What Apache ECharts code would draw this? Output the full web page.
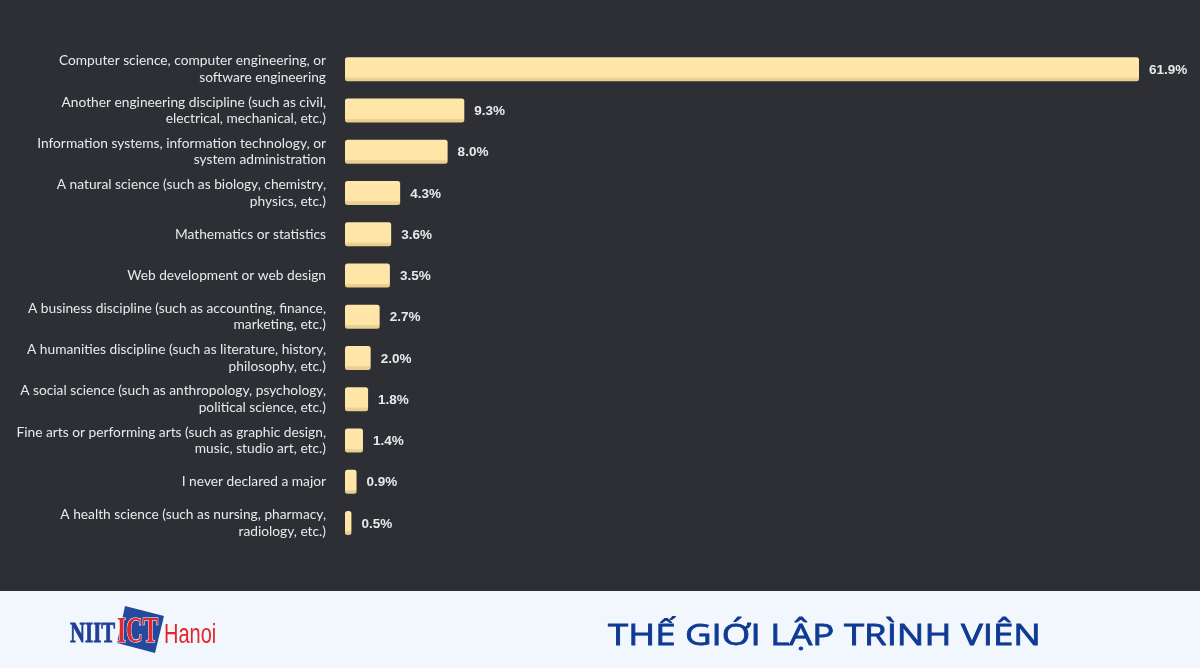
<!DOCTYPE html>
<html><head><meta charset="utf-8">
<style>html,body{margin:0;padding:0;background:#2d2f34}#c{width:1200px;height:668px}</style>
<script src="https://cdn.jsdelivr.net/npm/echarts@6/dist/echarts.min.js"></script>
</head><body><div id="c"></div>
<script>
const categories = [
 "Computer science, computer engineering, or\nsoftware engineering",
 "Another engineering discipline (such as civil,\nelectrical, mechanical, etc.)",
 "Information systems, information technology, or\nsystem administration",
 "A natural science (such as biology, chemistry,\nphysics, etc.)",
 "Mathematics or statistics",
 "Web development or web design",
 "A business discipline (such as accounting, finance,\nmarketing, etc.)",
 "A humanities discipline (such as literature, history,\nphilosophy, etc.)",
 "A social science (such as anthropology, psychology,\npolitical science, etc.)",
 "Fine arts or performing arts (such as graphic design,\nmusic, studio art, etc.)",
 "I never declared a major",
 "A health science (such as nursing, pharmacy,\nradiology, etc.)"
];
const shares = [61.9, 9.3, 8.0, 4.3, 3.6, 3.5, 2.7, 2.0, 1.8, 1.4, 0.9, 0.5];
const footerTitle = "THẾ GIỚI LẬP TRÌNH VIÊN";

const chart = echarts.init(document.getElementById('c'), null, {renderer:'canvas'});
chart.setOption({
  backgroundColor:'#2d2f34',
  animation:false,
  grid:{left:345,top:48.5,width:794,height:495,containLabel:false},
  xAxis:{type:'value',min:0,max:61.9,show:false},
  yAxis:{type:'category',inverse:true,data:categories,
    axisLine:{show:false},axisTick:{show:false},
    axisLabel:{color:'#e8e9ea',fontFamily:'Lato',fontSize:13.75,lineHeight:16.5,align:'right',margin:19,padding:[2,0,0,0]}},
  series:[{type:'bar',data:shares,barWidth:24,
    itemStyle:{borderRadius:2.5,
      color:{type:'linear',x:0,y:0,x2:0,y2:1,colorStops:[
        {offset:0,color:'#ffe7aa'},{offset:0.84,color:'#ffe5a6'},
        {offset:0.86,color:'#ecd394'},{offset:1,color:'#e6cc8c'}]}},
    label:{show:true,position:'right',distance:10,offset:[0,1],color:'#e9eaec',fontFamily:'Liberation Sans',fontWeight:'bold',fontSize:13.5,
      formatter:p=>p.value.toFixed(1)+'%'}}],
  graphic:[
    {type:'rect',silent:true,shape:{x:0,y:591,width:1200,height:77},style:{fill:'#f2f7fe'}},
    {type:'polygon',silent:true,shape:{points:[[125,606],[164,616],[155,653],[117,643]]},style:{fill:'#234a9c'}},
    {type:'text',silent:true,z:4,x:70,y:649,scaleX:0.72,style:{text:'NIIT',fill:'#1f3f94',stroke:'#1f3f94',lineWidth:0.8,font:'bold 29px "Liberation Serif"',textVerticalAlign:'bottom'}},
    {type:'text',silent:true,z:4,x:117,y:650,scaleX:0.66,style:{text:'ICT',fill:'#e3262b',stroke:'#ffffff',lineWidth:1.2,font:'bold 35px "Liberation Serif"',textVerticalAlign:'bottom'}},
    {type:'text',silent:true,z:4,x:164,y:649,scaleX:0.74,style:{text:'Hanoi',fill:'#e3262b',font:'27px "Liberation Sans"',textVerticalAlign:'bottom'}},
    {type:'text',silent:true,z:4,x:608,y:636,scaleX:1.22,style:{text:footerTitle,fill:'#0f3a92',stroke:'#0f3a92',lineWidth:0.8,font:'400 30px "Open Sans"',textVerticalAlign:'middle'}}
  ]
});
</script></body></html>
